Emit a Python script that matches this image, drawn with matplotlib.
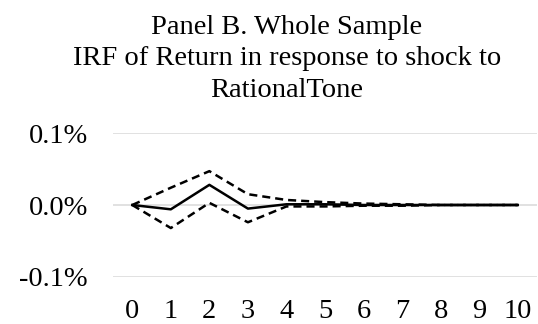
import matplotlib
matplotlib.use("Agg")
import matplotlib.pyplot as plt
from matplotlib.ticker import FuncFormatter

# IRF do retorno a um choque em RationalTone (em %)
passos = [0, 1, 2, 3, 4, 5, 6, 7, 8, 9, 10]
irf = [0.000, -0.006, 0.028, -0.005, 0.001, 0.001, 0.000, 0.000, 0.000, 0.000, 0.000]
limite_sup = [0.000, 0.024, 0.047, 0.015, 0.007, 0.004, 0.002, 0.001, 0.000, 0.000, 0.000]
limite_inf = [0.000, -0.032, 0.003, -0.024, -0.002, -0.002, -0.001, -0.001, 0.000, 0.000, 0.000]
y_ticks = [-0.1, 0.0, 0.1]

titulo = "Panel B. Whole Sample\nIRF of Return in response to shock to\nRationalTone"

plt.rcParams["font.family"] = ["Liberation Serif", "DejaVu Serif"]
plt.rcParams["lines.scale_dashes"] = False

fig = plt.figure(figsize=(5.38, 3.24), dpi=100)
ax = fig.add_axes([113 / 538, 1 - 277 / 324, 424 / 538, 144 / 324])

# Linhas de grade horizontais
for v in y_ticks:
    ax.axhline(v, color="#d9d9d9", lw=1.1, zorder=0)

ax.plot(passos, limite_sup, color="black", lw=1.8, dashes=(5.8, 3.6))
ax.plot(passos, limite_inf, color="black", lw=1.8, dashes=(5.8, 3.6))
ax.plot(passos, irf, color="black", lw=1.8)

ax.set_xlim(-0.5, 10.5)
ax.set_ylim(-0.1, 0.1)
ax.set_xticks(passos)
ax.set_yticks(y_ticks)
ax.yaxis.set_major_formatter(FuncFormatter(lambda v, p: f"{v:.1f}%"))
ax.tick_params(axis="both", length=0, labelsize=20.5)
ax.tick_params(axis="y", pad=18)
ax.tick_params(axis="x", pad=16)

for s in ax.spines.values():
    s.set_visible(False)

fig.text(287 / 538, 1 - 96.7 / 324, titulo, ha="center", va="baseline",
         multialignment="center", fontsize=20.5, linespacing=1.33)

fig.savefig("out.png", dpi=100)
